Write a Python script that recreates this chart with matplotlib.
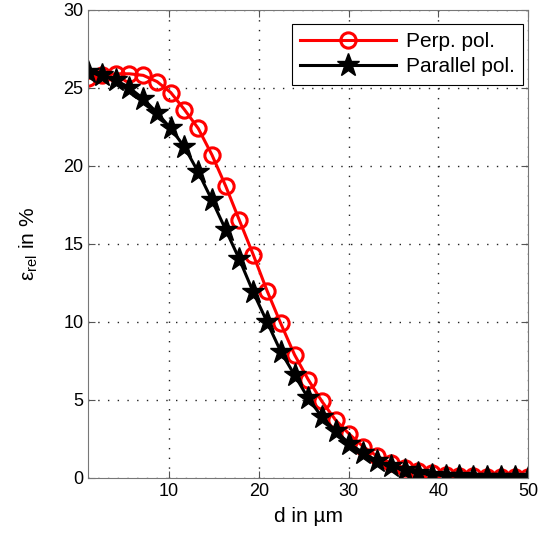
import matplotlib
matplotlib.use("Agg")
import matplotlib.pyplot as plt

plt.rcParams['font.family'] = ['Liberation Sans', 'DejaVu Sans']
plt.rcParams['mathtext.fontset'] = 'custom'
plt.rcParams['mathtext.rm'] = 'Liberation Sans'

# d in um
d = [1.0, 2.53, 4.06, 5.59, 7.13, 8.66, 10.19, 11.72, 13.25, 14.78, 16.31,
     17.84, 19.38, 20.91, 22.44, 23.97, 25.5, 27.03, 28.56, 30.09, 31.63,
     33.16, 34.69, 36.22, 37.75, 39.28, 40.81, 42.34, 43.88, 45.41, 46.94,
     48.47, 50.0]

perp = [25.6, 25.8, 25.9, 25.9, 25.8, 25.4, 24.7, 23.6, 22.4, 20.7, 18.7,
        16.5, 14.3, 12.0, 9.9, 7.9, 6.3, 4.9, 3.7, 2.8, 2.0, 1.4, 0.95,
        0.65, 0.45, 0.3, 0.2, 0.15, 0.1, 0.08, 0.06, 0.05, 0.04]

parallel = [26.0, 25.8, 25.5, 25.0, 24.3, 23.4, 22.4, 21.2, 19.6, 17.8, 15.9,
            14.0, 11.9, 10.0, 8.1, 6.6, 5.1, 3.9, 3.0, 2.2, 1.6, 1.1, 0.75,
            0.5, 0.32, 0.22, 0.15, 0.1, 0.07, 0.05, 0.04, 0.03, 0.02]

fig = plt.figure(figsize=(5.48, 5.45), dpi=100)
ax = fig.add_axes([0.161, 0.123, 0.803, 0.859])

ax.plot(d, perp, color='red', lw=2.2, marker='o', ms=11, mfc='none',
        mec='red', mew=2.2, label='Perp. pol.')
ax.plot(d, parallel, color='black', lw=2.2, marker='*', ms=17, mfc='black',
        mec='black', label='Parallel pol.')

ax.set_xlim(1, 50)
ax.set_ylim(0, 30)
ax.set_xticks([10, 20, 30, 40, 50])
ax.set_yticks([0, 5, 10, 15, 20, 25, 30])
ax.tick_params(direction='in', top=True, right=True, labelsize=13,
               length=5, color='#555555')
ax.grid(True, color='#222222', linestyle=(0, (1, 6)), lw=1.0)
for s in ax.spines.values():
    s.set_color('#777777')

ax.set_xlabel('d in µm', fontsize=15, labelpad=5)
ax.set_ylabel(r'ε$_\mathregular{rel}$ in %', fontsize=15, labelpad=17)

leg = ax.legend(loc='upper right', bbox_to_anchor=(0.989, 0.97),
                borderaxespad=0, fontsize=15, fancybox=False,
                framealpha=1, edgecolor='black', handlelength=4.6,
                handletextpad=0.5, borderpad=0.4, labelspacing=0.3)
leg.get_frame().set_linewidth(0.8)

fig.savefig('out.png', dpi=100)
